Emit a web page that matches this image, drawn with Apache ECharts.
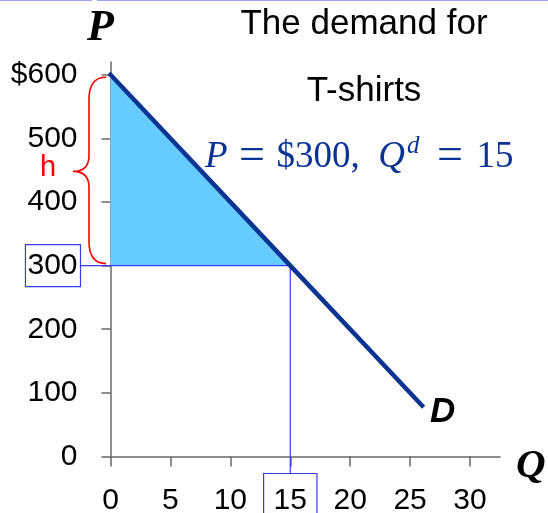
<!DOCTYPE html>
<html>
<head>
<meta charset="utf-8">
<script src="https://cdn.jsdelivr.net/npm/echarts@6/dist/echarts.min.js"></script>
<style>
html, body { margin: 0; padding: 0; background: #fff; }
#chart { width: 548px; height: 513px; }
</style>
</head>
<body>
<div id="chart"></div>
<script>
// ticks shown on the axes
var qTicks = [0, 5, 10, 15, 20, 25, 30];
var pTicks = [0, 100, 200, 300, 400, 500, 600];

// demand curve D
var demandQ = [0, 15, 26];
var demandP = [600, 300, 80];

// chosen point and the shaded triangle above it
var pickQ = 15;
var pickP = 300;
var fillQ = [0, 15, 0];
var fillP = [600, 300, 300];

var sans = 'Liberation Sans';
var serif = 'Liberation Serif';
var blue = '#3a3af0';
var navy = '#0b3391';
var axisGray = '#6a6a6a';

var myChart = echarts.init(document.getElementById('chart'));

function pairs(xs, ys) {
    return xs.map(function (x, i) { return [x, ys[i]]; });
}

var option = {
    animation: false,
    grid: {
        left: 110.5,
        right: 48,
        top: 62,
        bottom: 56.5,
        outerBoundsMode: 'none'
    },
    xAxis: {
        type: 'value',
        min: 0,
        max: 32.5,
        name: 'Q',
        nameLocation: 'end',
        nameGap: 16,
        nameTextStyle: {
            fontFamily: serif, fontStyle: 'italic', fontWeight: 'bold',
            fontSize: 41, color: '#000', verticalAlign: 'top', lineHeight: 20
        },
        splitLine: { show: false },
        axisLine: { show: true, lineStyle: { color: axisGray, width: 1.5 } },
        axisTick: { show: true, length: 10, customValues: qTicks, lineStyle: { color: axisGray, width: 1.5 } },
        axisLabel: {
            customValues: qTicks,
            margin: 17,
            fontFamily: sans,
            fontSize: 30,
            color: '#000',
            formatter: function (v) {
                return v === pickQ ? '{b|' + v + '}' : '{n|' + v + '}';
            },
            rich: {
                n: { fontFamily: sans, fontSize: 30, color: '#000', padding: [12, 10, 10, 10] },
                b: { fontFamily: sans, fontSize: 30, color: '#000', padding: [12, 10, 10, 10], borderColor: blue, borderWidth: 1.2 }
            }
        }
    },
    yAxis: {
        type: 'value',
        min: 0,
        max: 620,
        name: 'P',
        nameLocation: 'end',
        nameGap: 11,
        nameTextStyle: {
            fontFamily: serif, fontStyle: 'italic', fontWeight: 'bold',
            fontSize: 44, color: '#000', padding: [0, 20, 0, 0]
        },
        splitLine: { show: false },
        axisLine: { show: true, lineStyle: { color: axisGray, width: 1.5 } },
        axisTick: { show: true, length: 9, customValues: pTicks, lineStyle: { color: axisGray, width: 1.5 } },
        axisLabel: {
            customValues: pTicks,
            margin: 30,
            fontFamily: sans,
            fontSize: 30,
            color: '#000',
            formatter: function (v) {
                if (v === 600) return '{n|$' + v + '}';
                return v === pickP ? '{b|' + v + '}' : '{n|' + v + '}';
            },
            rich: {
                n: { fontFamily: sans, fontSize: 30, color: '#000', padding: [6, 3, 6, 2] },
                b: { fontFamily: sans, fontSize: 30, color: '#000', padding: [6, 3, 6, 2], borderColor: blue, borderWidth: 1.2 }
            }
        }
    },
    graphic: [
        { type: 'line', shape: { x1: 0, y1: 0.5, x2: 92, y2: 0.5 }, style: { stroke: '#a0a0ff', lineWidth: 1 } },
        { type: 'line', shape: { x1: 97, y1: 0.5, x2: 548, y2: 0.5 }, style: { stroke: '#a0a0ff', lineWidth: 1 } },
        {
            type: 'text', x: 364, y: 24,
            style: { text: 'The demand for', fontFamily: sans, fontSize: 35, fill: '#000', align: 'center', verticalAlign: 'middle' }
        },
        {
            type: 'text', x: 364, y: 91,
            style: { text: 'T-shirts', fontFamily: sans, fontSize: 35, fill: '#000', align: 'center', verticalAlign: 'middle' }
        },
        {
            type: 'text', x: 205, y: 157,
            style: {
                text: '{i|P}{e| = }{r|$' + pickP + ',\u2002}{i|Q}{s|d}{f| = }{r|' + pickQ + '}',
                align: 'left',
                verticalAlign: 'middle',
                fill: navy,
                rich: {
                    i: { fontFamily: serif, fontStyle: 'italic', fontSize: 37, fill: navy, color: navy },
                    r: { fontFamily: serif, fontSize: 37, fill: navy, color: navy },
                    e: { fontFamily: serif, fontSize: 46, fill: navy, color: navy },
                    f: { fontFamily: serif, fontSize: 46, fill: navy, color: navy, padding: [0, 2, 0, 4] },
                    s: { fontFamily: serif, fontStyle: 'italic', fontSize: 25, fill: navy, color: navy, padding: [0, 2, 22, 2] }
                }
            }
        }
    ],
    series: [
        {
            type: 'custom',
            data: [[0, 0]],
            silent: true,
            z: 1,
            renderItem: function (params, api) {
                var pts = pairs(fillQ, fillP).map(function (p) { return api.coord(p); });
                return { type: 'polygon', shape: { points: pts }, style: { fill: '#66ccff' } };
            }
        },
        {
            type: 'custom',
            data: [[pickQ, pickP]],
            silent: true,
            z: 2,
            renderItem: function (params, api) {
                var pt = api.coord([api.value(0), api.value(1)]);
                var origin = api.coord([0, 0]);
                return {
                    type: 'polyline',
                    shape: { points: [[origin[0] - 30, pt[1]], pt, [pt[0], origin[1] + 17]] },
                    style: { stroke: blue, lineWidth: 1.2, fill: null }
                };
            }
        },
        {
            type: 'custom',
            data: [[pickP, demandP[0]]],
            silent: true,
            z: 3,
            renderItem: function (params, api) {
                var lo = api.coord([0, api.value(0)]);
                var hi = api.coord([0, api.value(1)]);
                var xr = lo[0] - 4.5, xm = lo[0] - 21.5, xt = lo[0] - 37.5;
                var yt = hi[1] + 2.5, yb = lo[1] - 2, ym = (yt + yb) / 2 + 1;
                var d = 'M' + xr + ' ' + yt +
                    ' Q' + xm + ' ' + yt + ' ' + xm + ' ' + (yt + 22) +
                    ' L' + xm + ' ' + (ym - 16) +
                    ' Q' + xm + ' ' + ym + ' ' + xt + ' ' + ym +
                    ' Q' + xm + ' ' + ym + ' ' + xm + ' ' + (ym + 16) +
                    ' L' + xm + ' ' + (yb - 22) +
                    ' Q' + xm + ' ' + yb + ' ' + xr + ' ' + yb;
                return {
                    type: 'group',
                    children: [
                        { type: 'path', shape: { pathData: d }, style: { stroke: '#ff0000', lineWidth: 1.6, fill: null } },
                        {
                            type: 'text', x: xt - 25, y: ym - 3,
                            style: { text: 'h', fontFamily: sans, fontSize: 29, fill: '#ff0000', align: 'center', verticalAlign: 'middle' }
                        }
                    ]
                };
            }
        },
        {
            type: 'line',
            data: pairs(demandQ, demandP),
            showSymbol: false,
            z: 4,
            lineStyle: { color: navy, width: 4.5, cap: 'square' },
            endLabel: {
                show: true,
                formatter: 'D',
                distance: 5,
                offset: [3, 7],
                fontFamily: sans,
                fontStyle: 'italic',
                fontWeight: 'bold',
                fontSize: 35,
                color: '#000'
            }
        }
    ]
};

myChart.setOption(option);
</script>
</body>
</html>
